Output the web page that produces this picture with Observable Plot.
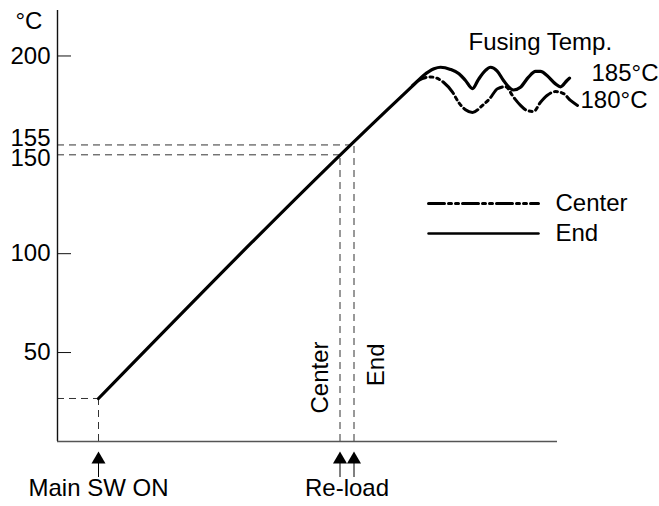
<!DOCTYPE html>
<html><head><meta charset="utf-8">
<script src="https://cdn.jsdelivr.net/npm/d3@7"></script>
<script src="https://cdn.jsdelivr.net/npm/@observablehq/plot@0.6"></script>
<style>body{margin:0;background:#fff} svg{display:block}</style>
</head><body><div id="chart"></div>
<script>
// --- data (time in arbitrary units, temperature in °C) ---
const yTickValues = [50, 100, 200];
const yLabelValues = [50, 100, 200];
const endTime = [8.2, 69.6, 71.5, 73.2, 75.3, 76.6, 78.6, 80.3, 81.6, 83, 84.2, 85.6, 86.6, 87.9, 89.2, 90.6, 91.2, 92.6, 94.2, 95.6, 96.6, 97.9, 99.6, 100.6, 101.9, 102.4];
const endTemp = [26.75, 181.5, 186, 190.1, 193.5, 194.3, 193.2, 191, 187.6, 183.5, 188.2, 192.7, 194.3, 192.5, 187.6, 183.5, 182.8, 184.2, 189.3, 192.2, 192.2, 190.1, 185.9, 184.4, 187.6, 188.8];
const centerTime = [71, 72.2, 74.6, 77.2, 79, 80.2, 81.6, 83, 85, 86.4, 88, 89.6, 91.2, 92.6, 93.9, 95.2, 96.6, 97.9, 99.6, 101.2, 102.6, 104];
const centerTemp = [185, 187.6, 189.4, 186.7, 181.7, 176.6, 172.8, 171.4, 175, 178.3, 183.4, 184.5, 179.2, 175, 172.4, 171.9, 176.6, 180, 182, 181, 177.5, 175];
const startTime = [8.2];
const startTemp = [26.75];
const reloadNames = ["Center", "End"];
const reloadTime = [56.5, 59.3];
const reloadTemp = [150, 155];
const eventNames = ["Main SW ON", "Re-load"];
const eventTime = [8.2, 57.9];
const fusingNames = ["185°C", "180°C"];
const fusingTemp = [191.1, 177.7];
const fusingLabelTime = [106.8, 104.6];

// --- layout constants ---
const font = "Liberation Sans, Arial, Helvetica, sans-serif";
const fs = 24;
const yMin = 5, yMax = 223, xMax = 100;
const dash = "16,4,3,4,3,4";
const legendX = [74.2, 96.2], legendTextX = 99.6, legendY = [125.4, 110.2];

const endData = endTime.map((t, i) => ({t, v: endTemp[i]}));
const centerData = centerTime.map((t, i) => ({t, v: centerTemp[i]}));
const refs = [
  {t: startTime[0], v: startTemp[0]},
  ...reloadTime.map((t, i) => ({t, v: reloadTemp[i]}))
];
const arrowTimes = [startTime[0], ...reloadTime];

const chart = Plot.plot({
  width: 659,
  height: 506,
  marginLeft: 57,
  marginRight: 2,
  marginTop: 10,
  marginBottom: 65,
  x: {domain: [0, 120], axis: null},
  y: {domain: [yMin, yMax], axis: null},
  style: {fontFamily: font, fontSize: fs + "px", background: "#fff", color: "#000"},
  marks: [
    // dashed reference lines
    Plot.ruleY(refs, {y: "v", x1: 0, x2: "t", stroke: "#333", strokeWidth: 1, strokeDasharray: "7,5"}),
    Plot.ruleX(refs, {x: "t", y1: yMin, y2: "v", stroke: "#333", strokeWidth: 1, strokeDasharray: "7,5"}),
    // axes lines
    Plot.ruleX([0], {y1: yMin, y2: yMax, stroke: "#111", strokeWidth: 1.4}),
    Plot.ruleY([yMin], {x1: 0, x2: xMax, stroke: "#555", strokeWidth: 1.6}),
    Plot.ruleY(yTickValues, {x1: 0, x2: 2.8, stroke: "#111", strokeWidth: 1}),
    // tick labels
    Plot.text(yLabelValues, {y: d => d, frameAnchor: "left", dx: -7, textAnchor: "end", fontSize: fs, fontFamily: font}),
    Plot.text([155], {y: d => d, frameAnchor: "left", dx: -7, dy: -7, textAnchor: "end", fontSize: fs, fontFamily: font}),
    Plot.text([150], {y: d => d, frameAnchor: "left", dx: -7, dy: 3, textAnchor: "end", fontSize: fs, fontFamily: font}),
    Plot.text(["°C"], {frameAnchor: "top-left", dx: -42, dy: 1, textAnchor: "start", lineAnchor: "top", fontSize: fs, fontFamily: font}),
    // curves
    Plot.line(centerData, {x: "t", y: "v", curve: "monotone-x", stroke: "#000", strokeWidth: 3, strokeDasharray: dash}),
    Plot.line(endData, {x: "t", y: "v", curve: "monotone-x", stroke: "#000", strokeWidth: 3.2}),
    // fusing labels
    Plot.text(["Fusing Temp."], {x: 82.2, y: 206.8, textAnchor: "start", fontSize: fs, fontFamily: font}),
    Plot.text(fusingNames, {x: (d, i) => fusingLabelTime[i], y: (d, i) => fusingTemp[i], text: d => d, textAnchor: "start", fontSize: fs, fontFamily: font}),
    // legend
    Plot.line(legendX.map(t => ({t, v: legendY[0]})), {x: "t", y: "v", stroke: "#000", strokeWidth: 3, strokeDasharray: dash}),
    Plot.line(legendX.map(t => ({t, v: legendY[1]})), {x: "t", y: "v", stroke: "#000", strokeWidth: 2.5}),
    Plot.text(reloadNames, {x: legendTextX, y: (d, i) => legendY[i], text: d => d, textAnchor: "start", fontSize: fs, fontFamily: font}),
    // rotated reload labels
    Plot.text([reloadNames[0]], {x: reloadTime[0], frameAnchor: "bottom", dy: -100, dx: -12, rotate: -90, textAnchor: "end", lineAnchor: "bottom", text: d => d, fontSize: fs, fontFamily: font}),
    Plot.text([reloadNames[1]], {x: reloadTime[1], frameAnchor: "bottom", dy: -98, dx: 30, rotate: -90, textAnchor: "end", lineAnchor: "bottom", text: d => d, fontSize: fs, fontFamily: font}),
    // arrows below the axis
    Plot.dot(arrowTimes, {x: d => d, frameAnchor: "bottom", dy: 18, symbol: "triangle", r: 5.2, fill: "#000", stroke: null}),
    Plot.ruleX(arrowTimes, {x: d => d, insetTop: 417, dy: 36, stroke: "#000", strokeWidth: 1}),
    // event labels
    Plot.text(eventNames, {x: (d, i) => eventTime[i], frameAnchor: "bottom", dy: 54, text: d => d, fontSize: fs, fontFamily: font})
  ]
});
document.getElementById("chart").appendChild(chart);
</script>
</body></html>
